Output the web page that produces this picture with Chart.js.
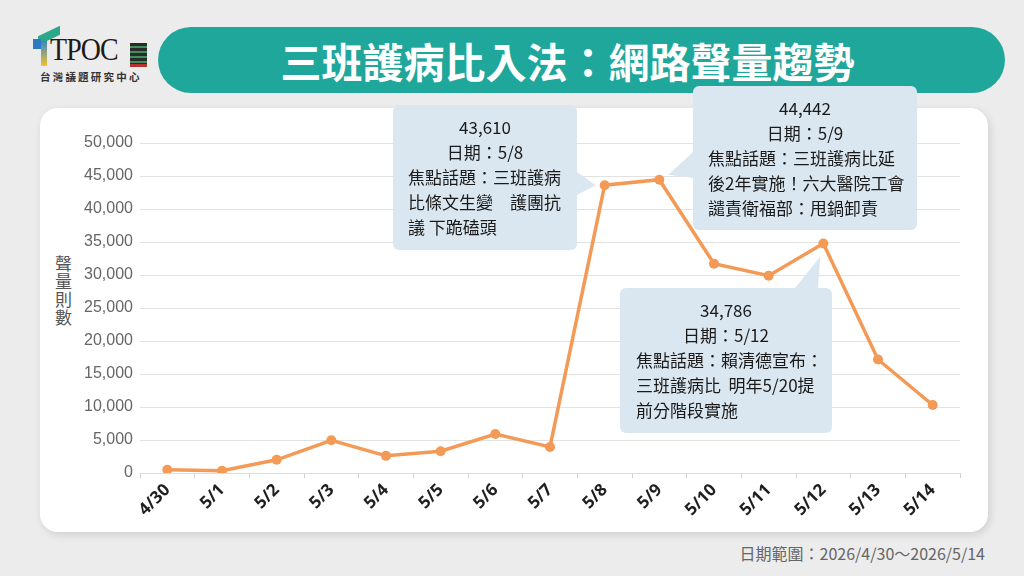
<!DOCTYPE html>
<html>
<head>
<meta charset="utf-8">
<script src="https://cdn.jsdelivr.net/npm/chart.js@4"></script>
<style>
  html, body { margin: 0; padding: 0; }
  body {
    width: 1024px; height: 576px; position: relative; overflow: hidden;
    background: #ececec;
    font-family: "Noto Sans CJK TC", "Noto Sans", sans-serif;
  }
  .logo { position: absolute; left: 30px; top: 26px; width: 125px; height: 60px; }
  .logo .mark-top { position: absolute; left: 8px; top: 5px; width: 22px; height: 9px; background: #2aa889; transform: skewY(-25deg); }
  .logo .mark-left { position: absolute; left: 3px; top: 13px; width: 8px; height: 10px; background: #2a7bc4; }
  .logo .mark-bar { position: absolute; left: 11px; top: 15px; width: 6px; height: 25px; background: linear-gradient(#3a86c8, #f2c230); }
  .logo .word { position: absolute; left: 20px; top: 7px; font-family: "Liberation Serif", "DejaVu Serif", serif; font-size: 31px; color: #231815; letter-spacing: -1px; transform: scaleX(0.9); transform-origin: left; line-height: 34px; }
  .logo .box { position: absolute; left: 100px; top: 17px; width: 17px; height: 21px; background: repeating-linear-gradient(#2b2b2b 0 3px, #3f8f5f 3px 5px); border-bottom: 3px solid #b5332e; }
  .logo .sub { position: absolute; left: 10px; top: 43px; font-size: 10.5px; font-weight: 700; letter-spacing: 2.2px; color: #333; white-space: nowrap; }
  .title {
    position: absolute; left: 158px; top: 27px; width: 847px; height: 66px;
    border-radius: 33px; background: #20a79b; color: #fff;
    font-size: 41px; font-weight: 700; line-height: 66px; text-align: center;
    box-sizing: border-box; padding-right: 28px;
  }
  .card {
    position: absolute; left: 40px; top: 108px; width: 948px; height: 424px;
    background: #fff; border-radius: 18px; box-shadow: 2px 3px 8px rgba(0,0,0,0.12);
  }
  .ytitle {
    position: absolute; left: 53px; top: 255px; writing-mode: vertical-rl;
    font-size: 17px; color: #555; line-height: 20px; letter-spacing: 1px;
  }
  .footer {
    position: absolute; right: 39px; top: 541px; font-size: 16px; color: #666;
  }
  #wrap { position: absolute; left: 0; top: 0; width: 1024px; height: 576px; }
</style>
</head>
<body>
<div class="logo">
  <div class="mark-top"></div>
  <div class="mark-left"></div>
  <div class="mark-bar"></div>
  <div class="word">TPOC</div>
  <div class="box"></div>
  <div class="sub">台灣議題研究中心</div>
</div>
<div class="title">三班護病比入法：網路聲量趨勢</div>
<div class="card"></div>
<div class="ytitle">聲量則數</div>
<div class="footer">日期範圍：2026/4/30～2026/5/14</div>
<div id="wrap"><canvas id="chart" width="1024" height="576"></canvas></div>

<script>
// Daily mention counts
const dates = ['4/30', '5/1', '5/2', '5/3', '5/4', '5/5', '5/6', '5/7',
  '5/8', '5/9', '5/10', '5/11', '5/12', '5/13', '5/14'];
const mentions = [500, 350, 2000, 4950, 2600, 3300, 5900, 3950,
  43610, 44442, 31700, 29900, 34786, 17200, 10300];
const yTicks = [0, 5000, 10000, 15000, 20000, 25000, 30000, 35000, 40000, 45000, 50000];

// Callout texts for the peak days
const note58 = ['43,610', '日期：5/8', '焦點話題：三班護病', '比條文生變　護團抗', '議 下跪磕頭'];
const note59 = ['44,442', '日期：5/9', '焦點話題：三班護病比延', '後2年實施！六大醫院工會', '譴責衛福部：甩鍋卸責'];
const note512 = ['34,786', '日期：5/12', '焦點話題：賴清德宣布：', '三班護病比  明年5/20提', '前分階段實施'];

const callouts = [
  { index: 8, lines: note58, x: 393, y: 105, w: 184, h: 145, textX: 408, center: 485,
    base: [[577, 172], [577, 195]], tipOff: [-9, 0] },
  { index: 9, lines: note59, x: 693, y: 86, w: 224, h: 144, textX: 708, center: 805,
    base: [[693, 152], [693, 178]], tipOff: [9, -5] },
  { index: 12, lines: note512, x: 620, y: 288, w: 212, h: 145, textX: 636, center: 726,
    base: [[795, 288], [818, 288]], tipOff: [-3, 13] }
];

function roundRect(ctx, x, y, w, h, r) {
  ctx.beginPath();
  ctx.moveTo(x + r, y);
  ctx.arcTo(x + w, y, x + w, y + h, r);
  ctx.arcTo(x + w, y + h, x, y + h, r);
  ctx.arcTo(x, y + h, x, y, r);
  ctx.arcTo(x, y, x + w, y, r);
  ctx.closePath();
}

// Draw the light blue callout boxes, pointing at the data points
const calloutPlugin = {
  id: 'callouts',
  afterDraw(chart) {
    const ctx = chart.ctx;
    const xs = chart.scales.x, ys = chart.scales.y;
    ctx.save();
    callouts.forEach(c => {
      const px = xs.getPixelForValue(c.index);
      const py = ys.getPixelForValue(mentions[c.index]);
      ctx.fillStyle = '#dbe7f0';
      roundRect(ctx, c.x, c.y, c.w, c.h, 6);
      ctx.fill();
      ctx.beginPath();
      ctx.moveTo(c.base[0][0], c.base[0][1]);
      ctx.lineTo(px + c.tipOff[0], py + c.tipOff[1]);
      ctx.lineTo(c.base[1][0], c.base[1][1]);
      ctx.closePath();
      ctx.fill();

      ctx.fillStyle = '#1a1a1a';
      ctx.font = '17px "Noto Sans CJK TC", sans-serif';
      ctx.textBaseline = 'middle';
      c.lines.forEach((line, i) => {
        const ly = c.y + 23 + i * 25;
        if (i < 2) {
          ctx.textAlign = 'center';
          ctx.fillText(line, c.center, ly);
        } else {
          ctx.textAlign = 'left';
          ctx.fillText(line, c.textX, ly);
        }
      });
    });
    ctx.restore();
  }
};

const ctx = document.getElementById('chart').getContext('2d');
new Chart(ctx, {
  type: 'line',
  data: {
    labels: dates,
    datasets: [{
      label: '聲量則數',
      data: mentions,
      borderColor: '#f39a56',
      backgroundColor: '#f39a56',
      borderWidth: 3.5,
      pointRadius: 5,
      pointBackgroundColor: '#f39a56',
      pointBorderWidth: 0,
      tension: 0
    }]
  },
  options: {
    responsive: false,
    animation: false,
    layout: { padding: { left: 40, right: 64, top: 143, bottom: 47 } },
    plugins: {
      legend: { display: false },
      tooltip: { enabled: false }
    },
    scales: {
      x: {
        offset: true,
        grid: { offset: true, drawOnChartArea: false, drawTicks: true, tickLength: 5, color: '#cfcfcf' },
        border: { display: true, color: '#dcdcdc' },
        ticks: {
          minRotation: 45, maxRotation: 45, autoSkip: false, padding: 2,
          color: '#1f1f1f',
          font: { family: '"Noto Sans", "Open Sans", sans-serif', size: 17, weight: 'bold' }
        },
        afterFit(scale) { scale.height = 56; }
      },
      y: {
        min: 0, max: 50000,
        afterBuildTicks(scale) { scale.ticks = yTicks.map(v => ({ value: v })); },
        grid: { color: '#e2e2e2', drawTicks: false },
        border: { display: false },
        ticks: {
          padding: 7,
          color: '#666',
          font: { family: '"Liberation Sans", Arial, sans-serif', size: 16 },
          callback: v => v.toLocaleString('en-US')
        },
        afterFit(scale) { scale.width = 100; }
      }
    }
  },
  plugins: [calloutPlugin]
});
</script>
</body>
</html>
